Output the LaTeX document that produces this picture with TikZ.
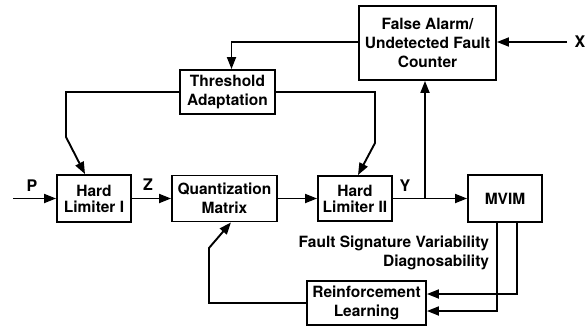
\documentclass[tikz,border=0pt]{standalone}
\usepackage{fontspec}
\setmainfont{TeX Gyre Heros}
\usetikzlibrary{arrows.meta}
\tikzset{
    every node/.style={
        text=black
    },
    every path/.style={
        color=black,
        line width=1.9pt
    },
    >={Triangle[length=12pt,width=9pt]}
}
\tikzstyle{block}=[draw, line width=1.9pt, align=center, inner sep=1pt, font=\fontsize{15.5}{19}\selectfont\bfseries]
\tikzstyle{sig}=[font=\fontsize{16}{18}\selectfont\bfseries]

\begin{document}
\begin{tikzpicture}[x=1pt, y=-1pt]
\useasboundingbox (0,0) rectangle (587,327);

\node[block, minimum width=137pt, minimum height=74pt] (FA) at (427.5, 43) {False Alarm/\\Undetected Fault\\Counter};
\node[block, minimum width=95pt, minimum height=44pt] (TA) at (227.5, 92) {Threshold\\Adaptation};
\node[block, minimum width=74pt, minimum height=47pt, font=\fontsize{15.5}{16}\selectfont\bfseries] (HL1) at (94, 198.5) {Hard\\Limiter I};
\node[block, minimum width=105pt, minimum height=46pt] (QM) at (224.5, 198.5) {Quantization\\Matrix};
\node[block, minimum width=74pt, minimum height=45pt, font=\fontsize{15.5}{16}\selectfont\bfseries] (HL2) at (355, 198.5) {Hard\\Limiter II};
\node[block, minimum width=74pt, minimum height=47pt] (MVIM) at (505, 198.5) {MVIM};
\node[block, minimum width=119pt, minimum height=44pt] (RL) at (366.5, 303) {Reinforcement\\Learning};

\coordinate (Pin) at (13, 198.5);
\coordinate (Xin) at (567, 42);
\coordinate (Ybr) at (425, 198.5);

\node[sig] (P) at (32, 186) {P};
\node[sig] (Z) at (148, 185) {Z};
\node[sig] (Y) at (405, 186) {Y};
\node[sig] (X) at (580, 42) {X};
\node[block, draw=none, align=right, anchor=north east] (FSV) at (491, 234) {Fault Signature Variability\\Diagnosability};

% main chain
\draw[->] (Pin) -- (HL1);
\draw[->] (HL1) -- (QM);
\draw[->] (QM) -- (HL2);
\draw[->] (HL2) -- (MVIM);
\draw[->] (Ybr) -- (Ybr |- FA.south);
\draw[->] (Xin) -- (FA.east |- Xin);

% threshold loop
\draw[->] (FA.west |- 0,42) -| ([xshift=4pt]TA.north);
\draw[->] (TA.west) -| (66,137) -- ([xshift=-9pt]HL1.north);
\draw[->] (TA.east) -| (375,143) -- ([xshift=3pt]HL2.north);

% learning loop
\draw[->] ([xshift=-8pt]MVIM.south) |- ([yshift=-8pt]RL.east);
\draw[->] ([xshift=12pt]MVIM.south) |- ([yshift=9pt]RL.east);
\draw[->] (RL.west) -| (209,248) -- ([xshift=6.5pt]QM.south);

\end{tikzpicture}
\end{document}
